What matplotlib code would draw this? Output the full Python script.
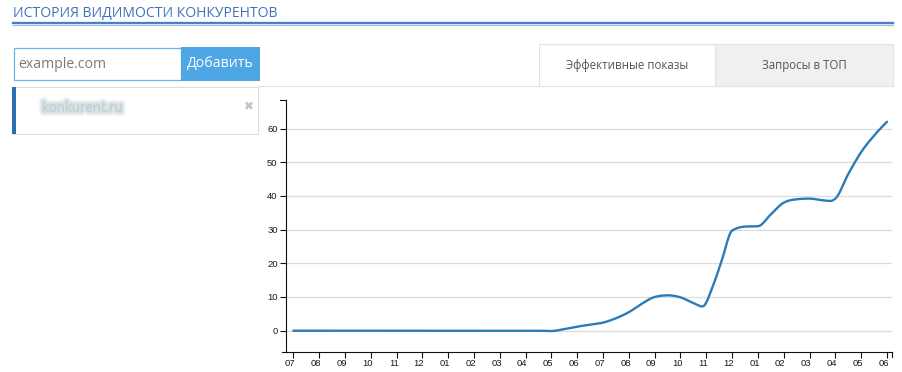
import numpy as np
import matplotlib
matplotlib.use("Agg")
import matplotlib.pyplot as plt
from matplotlib.patches import Rectangle
from matplotlib.lines import Line2D
import matplotlib.patheffects as pe
import matplotlib.transforms as mtransforms

# ---------------- data ----------------
month_labels = ["07", "08", "09", "10", "11", "12", "01", "02", "03", "04", "05", "06",
                "07", "08", "09", "10", "11", "12", "01", "02", "03", "04", "05", "06"]
# positions in month units (0 = first "07" tick)
positions = [0, 1, 2, 3, 4, 5, 6, 7, 8, 9, 9.5, 10, 10.5, 11, 11.5, 12, 12.5, 13, 13.5,
             14, 14.5, 15, 15.5, 15.85, 16.25, 16.6, 17, 17.5, 18, 18.5, 19, 19.5,
             20, 20.5, 20.8, 21, 21.5, 22, 22.5, 23]
values = [0, 0, 0, 0, 0, 0, 0, 0, 0, 0, 0.0, -0.1, 0.5, 1.2, 1.8, 2.4, 3.7, 5.5, 8.0,
          10.0, 10.5, 9.9, 8.2, 7.2, 13.1, 20.9, 29.7, 30.9, 31.0, 34.5, 38.0, 39.0,
          39.2, 38.7, 38.5, 39.2, 46.5, 53.0, 57.9, 62.0]
y_ticks = [0, 10, 20, 30, 40, 50, 60]

title = "ИСТОРИЯ ВИДИМОСТИ КОНКУРЕНТОВ"
input_placeholder = "example.com"
button_label = "Добавить"
competitor = "konkurent.ru"
tab_labels = ["Эффективные показы", "Запросы в ТОП"]


# ---------------- monotone cubic (d3.curveMonotoneX) ----------------
def monotone_curve(x, y, n=30):
    x = np.asarray(x, float)
    y = np.asarray(y, float)
    m = len(x)
    h = np.diff(x)
    s = np.diff(y) / h
    t = np.zeros(m)
    for i in range(1, m - 1):
        h0, h1 = h[i - 1], h[i]
        s0, s1 = s[i - 1], s[i]
        p = (s0 * h1 + s1 * h0) / (h0 + h1)
        t[i] = (np.sign(s0) + np.sign(s1)) * min(abs(s0), abs(s1), 0.5 * abs(p))
    t[0] = (3 * s[0] - t[1]) / 2
    t[-1] = (3 * s[-1] - t[-2]) / 2
    xs, ys = [], []
    for i in range(m - 1):
        u = np.linspace(0, 1, n, endpoint=(i == m - 2))
        hh = h[i]
        h00 = 2 * u**3 - 3 * u**2 + 1
        h10 = u**3 - 2 * u**2 + u
        h01 = -2 * u**3 + 3 * u**2
        h11 = u**3 - u**2
        xs.append(x[i] + u * hh)
        ys.append(h00 * y[i] + h10 * hh * t[i] + h01 * y[i + 1] + h11 * hh * t[i + 1])
    return np.concatenate(xs), np.concatenate(ys)


W, H = 902, 372
fig = plt.figure(figsize=(W / 100, H / 100), dpi=100)
fig.patch.set_facecolor("white")


def fx(px):
    return px / W


def fy(py):
    return 1 - py / H


UI = ["Open Sans", "DejaVu Sans"]

# ---------------- header ----------------
fig.text(fx(13), fy(13), title, family=UI, fontsize=10.1, color="#3f72b8",
         ha="left", va="center")
fig.add_artist(Line2D([fx(13), fx(893)], [fy(23), fy(23)], color="#4a7dcc", lw=1.7))
fig.add_artist(Line2D([fx(13), fx(893)], [fy(25.3), fy(25.3)], color="#9db8e2", lw=0.8))

# ---------------- input + button ----------------
fig.add_artist(Rectangle((fx(13.5), fy(80)), fx(181 - 13.5), fy(48) - fy(80),
                         facecolor="white", edgecolor="#6ab4e8", lw=0.9))
fig.text(fx(18), fy(64.5), input_placeholder, family=UI, fontsize=10.1, color="#7a7a7a",
         ha="left", va="center")
fig.add_artist(Rectangle((fx(181), fy(80.5)), fx(260 - 181), fy(47.5) - fy(80.5),
                         facecolor="#4ea6e4", edgecolor="none"))
fig.text(fx(220.5), fy(63.5), button_label, family=UI, fontsize=10.2, color="white",
         ha="center", va="center")

# ---------------- competitor list item ----------------
fig.add_artist(Rectangle((fx(13), fy(134)), fx(258 - 13), fy(87) - fy(134),
                         facecolor="white", edgecolor="#dedede", lw=0.8))
fig.add_artist(Rectangle((fx(12), fy(134)), fx(4), fy(87) - fy(134),
                         facecolor="#2a70b3", edgecolor="none"))
# blurred-looking domain name (single text, soft halo via path effects)
fig.text(fx(42), fy(108), competitor, family=UI, fontsize=9.5, color="#c3d0d3",
         alpha=1.0, ha="left", va="center",
         path_effects=[pe.withStroke(linewidth=6.5, foreground="#f3f6f7"),
                       pe.withStroke(linewidth=4.5, foreground="#e6ecee"),
                       pe.withStroke(linewidth=2.5, foreground="#d6dfe1"),
                       pe.Normal()])
fig.text(fx(248.5), fy(107), "✖", family=["DejaVu Sans"], fontsize=8.5, color="#c2c2c2",
         ha="center", va="center")

# ---------------- tabs ----------------
fig.add_artist(Line2D([fx(258), fx(893)], [fy(86.3), fy(86.3)], color="#e3e3e3", lw=0.8))
fig.add_artist(Rectangle((fx(715), fy(86.3)), fx(893 - 715), fy(44.3) - fy(86.3),
                         facecolor="#f0f0f0", edgecolor="#e3e3e3", lw=0.8))
fig.add_artist(Rectangle((fx(538.5), fy(86.3)), fx(715 - 538.5), fy(44.3) - fy(86.3),
                         facecolor="white", edgecolor="#e3e3e3", lw=0.8))
fig.text(fx(627.5), fy(66), tab_labels[0], family=UI, fontsize=8.3, color="#555555",
         ha="center", va="center")
fig.text(fx(804.5), fy(66), tab_labels[1], family=UI, fontsize=8.3, color="#555555",
         ha="center", va="center")

# ---------------- chart ----------------
ax_l, ax_r, ax_t, ax_b = 286, 892, 100, 351.7
ax = fig.add_axes([fx(ax_l), fy(ax_b), fx(ax_r - ax_l), fy(ax_t) - fy(ax_b)])
ax.set_facecolor("none")

px_per_month = (887 - 293.3) / 23
xmin = -(293.3 - ax_l) / px_per_month
xmax = 23 + (ax_r - 887) / px_per_month
px_per_unit = (330.7 - 297.0) / 10
ymin = -(ax_b - 330.7) / px_per_unit
ymax = (330.7 - ax_t) / px_per_unit
ax.set_xlim(xmin, xmax)
ax.set_ylim(ymin, ymax)

for v in y_ticks:
    ax.axhline(v, color="#dcdcdc", lw=0.9, zorder=1)

cx, cy = monotone_curve(positions, values)
ax.plot(cx, cy, color="#2b7bb9", lw=1.7, zorder=3, solid_capstyle="round")

for sp in ["top", "right"]:
    ax.spines[sp].set_visible(False)
for sp in ["left", "bottom"]:
    ax.spines[sp].set_color("#111111")
    ax.spines[sp].set_linewidth(0.8)

AX = ["Liberation Sans", "DejaVu Sans"]
ax.set_yticks(y_ticks)
ax.set_yticklabels([str(v) for v in y_ticks], family=AX, fontsize=6.8, color="#1a1a1a")
ax.tick_params(axis="y", length=4.5, width=0.8, color="#111111", pad=1.5)

ax.set_xticks(range(len(month_labels)))
ax.set_xticklabels(month_labels, family=AX, fontsize=6.8, color="#1a1a1a", ha="right")
ax.tick_params(axis="x", length=4, width=0.8, color="#111111", pad=1.0)
offset = mtransforms.ScaledTranslation(2 / 100, 0, fig.dpi_scale_trans)
for lbl in ax.get_xticklabels():
    lbl.set_transform(lbl.get_transform() + offset)

# outer ticks (d3 style)
fig.add_artist(Line2D([fx(280), fx(ax_l)], [fy(ax_t), fy(ax_t)], color="#111111", lw=0.8))
fig.add_artist(Line2D([fx(282), fx(ax_l)], [fy(ax_b), fy(ax_b)], color="#111111", lw=0.8))
fig.add_artist(Line2D([fx(ax_r), fx(ax_r)], [fy(ax_b), fy(ax_b + 5)], color="#111111", lw=0.8))

fig.savefig("out.png", dpi=100, facecolor="white")
